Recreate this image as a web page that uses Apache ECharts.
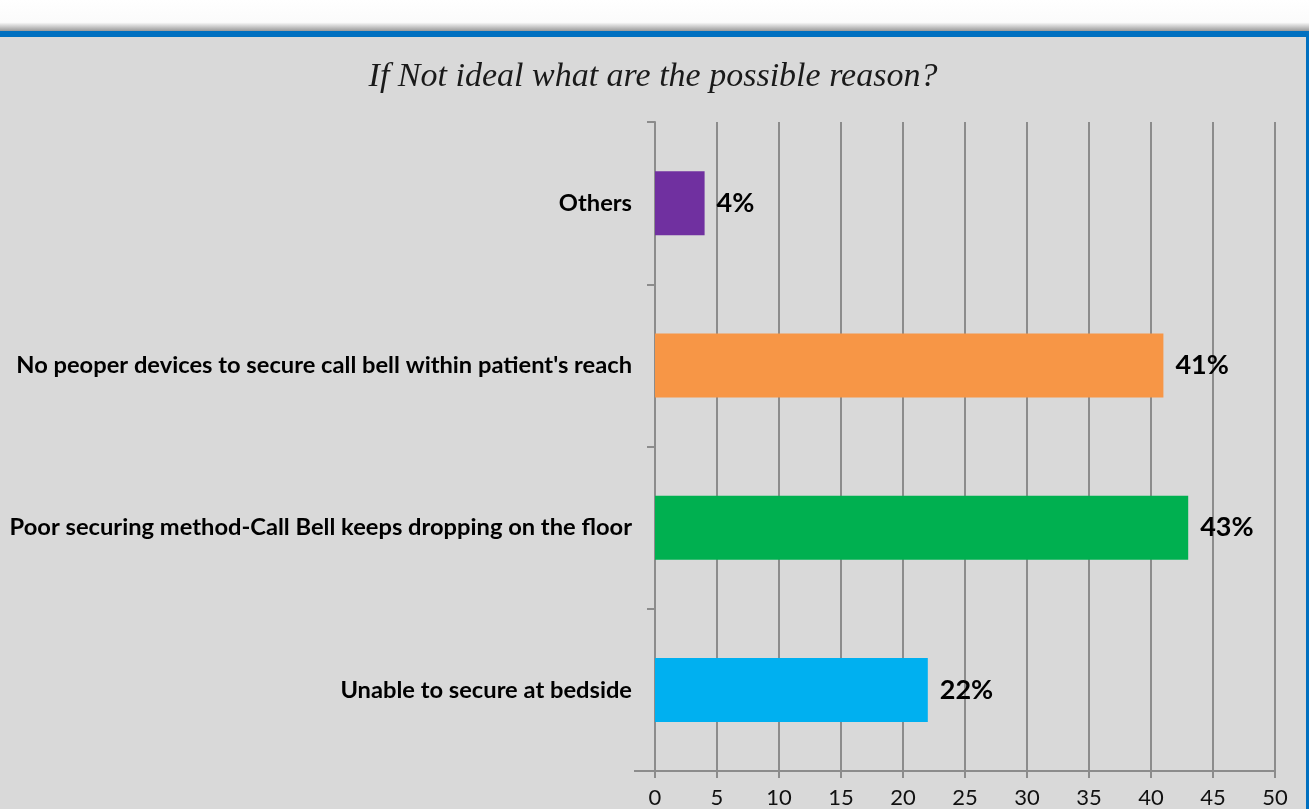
<!DOCTYPE html>
<html>
<head>
<meta charset="utf-8">
<script src="https://cdn.jsdelivr.net/npm/echarts@6/dist/echarts.min.js"></script>
<style>
html,body{margin:0;padding:0;background:#D9D9D9;}
#chart{width:1309px;height:809px;}
</style>
</head>
<body>
<div id="chart"></div>
<script>
const titleText = "If Not ideal what are the possible reason?";
const categories = [
  "Unable to secure at bedside",
  "Poor securing method-Call Bell keeps dropping on the floor",
  "No peoper devices to secure call bell within patient's reach",
  "Others"
];
const values = [22, 43, 41, 4];
const barColors = ["#00B0F0", "#00B050", "#F79646", "#7030A0"];
const xTicks = { min: 0, max: 50, interval: 5 };

const chart = echarts.init(document.getElementById('chart'), null, {renderer: 'canvas'});
const axisGrey = '#8C8C8C';
const option = {
  backgroundColor: '#D9D9D9',
  animation: false,
  title: {
    text: titleText,
    left: 648,
    textAlign: 'center',
    top: 55,
    textStyle: {
      fontFamily: 'Liberation Serif',
      fontStyle: 'italic',
      fontWeight: 'normal',
      fontSize: 34,
      color: '#1a1a1a'
    }
  },
  graphic: [
    { type: 'rect', shape: {x: 0, y: 0, width: 1309, height: 31}, z: 0,
      style: { fill: new echarts.graphic.LinearGradient(0, 0, 0, 1, [
        {offset: 0, color: '#ffffff'},
        {offset: 0.72, color: '#fbfbfb'},
        {offset: 1, color: '#9a9a9a'}
      ]) } },
    { type: 'rect', shape: {x: 0, y: 31, width: 1309, height: 6}, style: {fill: '#0070C0'} },
    { type: 'rect', shape: {x: 1306, y: 31, width: 3, height: 778}, style: {fill: '#0070C0'} },
    { type: 'line', shape: {x1: 634, y1: 771, x2: 655, y2: 771}, style: {stroke: axisGrey, lineWidth: 2} }
  ],
  grid: { left: 655, right: 34, top: 122, bottom: 38, containLabel: false, outerBoundsMode: 'none' },
  xAxis: {
    type: 'value',
    min: xTicks.min, max: xTicks.max, interval: xTicks.interval,
    axisLine: { show: true, lineStyle: { color: axisGrey, width: 2 } },
    axisTick: { show: true, length: 7, lineStyle: { color: axisGrey, width: 2 } },
    splitLine: { show: true, lineStyle: { color: axisGrey, width: 2 } },
    axisLabel: { fontFamily: 'Lato', fontSize: 22, color: '#111', margin: 16 }
  },
  yAxis: {
    type: 'category',
    data: categories,
    axisLine: { show: true, lineStyle: { color: axisGrey, width: 2 } },
    axisTick: { show: true, length: 8, lineStyle: { color: axisGrey, width: 2 } },
    axisLabel: { fontFamily: 'Lato', fontWeight: 'bold', fontSize: 23.7, color: '#000', margin: 23 }
  },
  series: [{
    type: 'bar',
    data: values.map((v, i) => ({ value: v, itemStyle: { color: barColors[i] } })),
    barWidth: 64,
    label: {
      show: true, position: 'right', distance: 12,
      formatter: '{c}%',
      fontFamily: 'Lato', fontWeight: 'bold', fontSize: 27, color: '#000'
    }
  }]
};
chart.setOption(option);
</script>
</body>
</html>
